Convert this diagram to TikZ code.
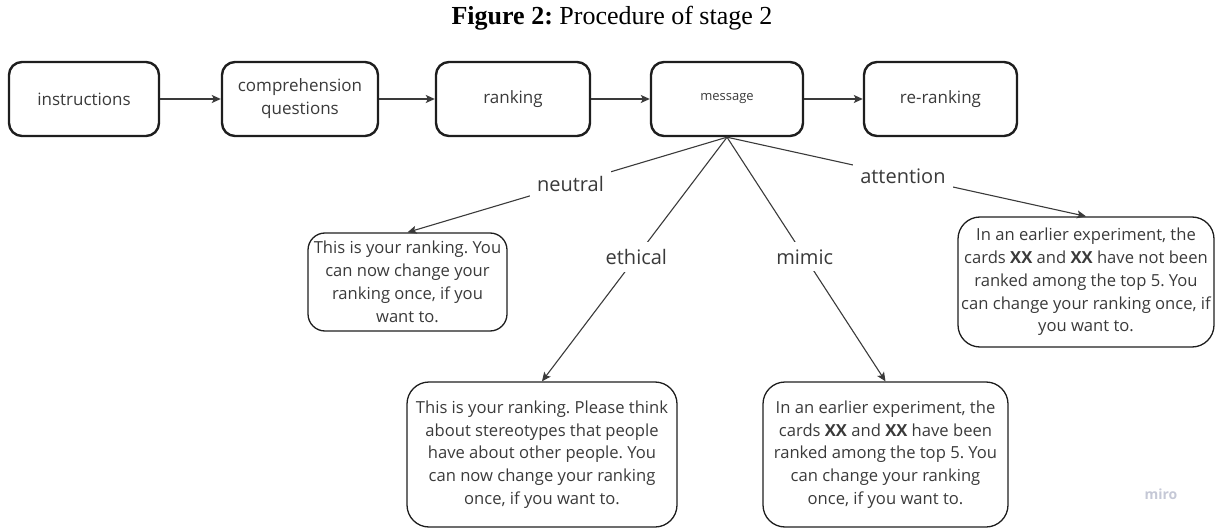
\documentclass[tikz,border=0pt]{standalone}
\usepackage{fontspec}
\setmainfont{Liberation Serif}
\newfontfamily\osans{Open Sans}
\usetikzlibrary{arrows.meta}
\definecolor{txt}{HTML}{3A3A3A}
\definecolor{lin}{HTML}{3A3A3A}
\definecolor{brd}{HTML}{1E1E1E}
\definecolor{miroc}{HTML}{C5C8D6}
\frenchspacing
\begin{document}
\begin{tikzpicture}[x=1pt,y=-1pt,
  topbox/.style={draw=brd, line width=2.4pt, rounded corners=13pt, minimum width=#1, minimum height=74pt,
    inner sep=0pt, align=center, text=txt, font=\osans\fontsize{17}{23}\selectfont},
  msgbox/.style={topbox=#1, font=\osans\fontsize{13}{16}\selectfont},
  txtbox/.style={draw=brd, line width=1.3pt, rounded corners=22pt, inner sep=0pt, align=center, text=txt,
    font=\osans\fontsize{16.6}{22.8}\selectfont},
  flow/.style={draw=lin, line width=1.3pt, -{Stealth[length=9pt,width=8pt,inset=2pt]}},
  conn/.style={draw=lin, line width=1.1pt, -{Stealth[length=9pt,width=8pt,inset=2pt]}},
  elabel/.style={fill=white, inner sep=7pt, text=txt, font=\osans\fontsize{20}{24}\selectfont},
  ttl/.style={inner sep=0pt, font=\fontsize{26}{30}\selectfont}
]
\useasboundingbox (0,0) rectangle (1220,529);
\node[ttl] (title) at (612,18) {\textbf{Figure 2:} Procedure of stage 2};

\node[topbox=150pt] (instr) at (84,99) {instructions};
\node[topbox=156pt] (comp) at (300,99) {comprehension\\questions};
\node[topbox=154pt] (rank) at (513,99) {ranking};
\node[msgbox=152pt] (msg) at (727,99) {message};
\node[topbox=153pt] (rerank) at (940.5,99) {re-ranking};

\draw[flow] (instr) -- (comp);
\draw[flow] (comp) -- (rank);
\draw[flow] (rank) -- (msg);
\draw[flow] (msg) -- (rerank);

\node[txtbox, rounded corners=17pt, minimum width=199pt, minimum height=98pt] (neu) at (407.5,282)
  {This is your ranking. You\\can now change your\\ranking once, if you\\want to.};
\node[txtbox, minimum width=270pt, minimum height=145pt] (eth) at (542,454.5)
  {This is your ranking. Please think\\about stereotypes that people\\have about other people. You\\can now change your ranking\\once, if you want to.};
\node[txtbox, minimum width=245pt, minimum height=145pt] (mim) at (885.5,454.5)
  {In an earlier experiment, the\\cards \textbf{XX} and \textbf{XX} have been\\ranked among the top 5. You\\can change your ranking\\once, if you want to.};
\node[txtbox, minimum width=256pt, minimum height=130pt] (att) at (1086,282)
  {In an earlier experiment, the\\cards \textbf{XX} and \textbf{XX} have not been\\ranked among the top 5. You\\can change your ranking once, if\\you want to.};

\draw[conn] (msg.south) -- node[elabel, pos=.49] (lneu) {neutral} (neu.north);
\draw[conn] (msg.south) -- node[elabel, pos=.49] (leth) {ethical} (eth.north);
\draw[conn] (msg.south) -- node[elabel, pos=.49] (lmim) {mimic} (mim.north);
\draw[conn] (msg.south) -- node[elabel, pos=.49] (latt) {attention} (att.north);

\node[inner sep=0pt, text=miroc, font=\osans\bfseries\fontsize{14}{16}\selectfont] (miro) at (1161,494) {miro};
\end{tikzpicture}
\end{document}
